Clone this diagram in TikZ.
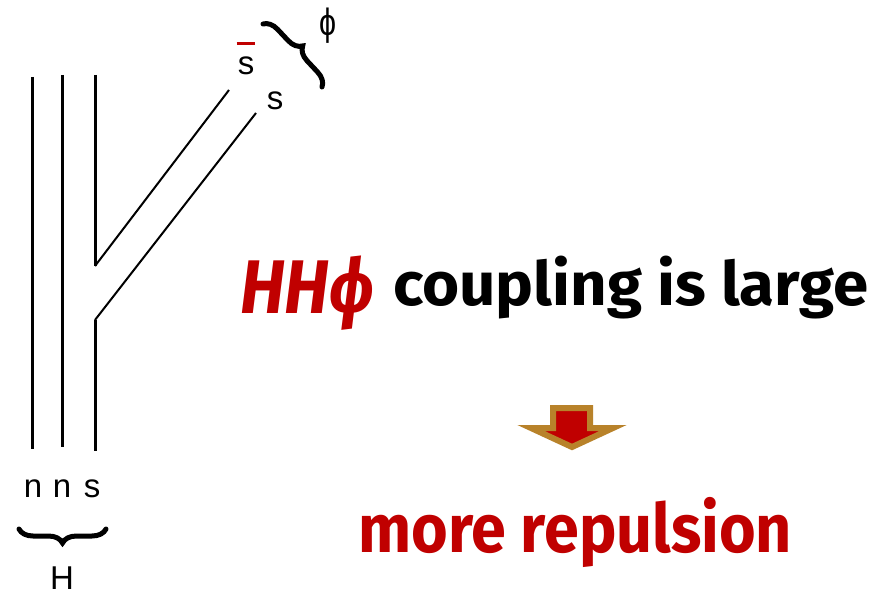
\documentclass[tikz,border=0pt]{standalone}
\usepackage{fontspec}
\usepackage{graphicx}
\setmainfont{Liberation Sans}
\newfontfamily\fira{Fira Sans}
\usetikzlibrary{decorations.pathreplacing}
\definecolor{dred}{HTML}{C00000}
\definecolor{gold}{HTML}{B8822A}
\tikzset{
  quark/.style={line width=3pt},
  diag/.style={line width=2pt},
  brc/.style={line width=5pt, line cap=round, decorate, decoration={brace, amplitude=14pt}},
  lbl/.style={inner sep=0pt, font=\fontsize{33}{36}\selectfont},
  big/.style={inner sep=0pt, anchor=base west},
}
\begin{document}
\begin{tikzpicture}[x=1pt,y=-1pt]
\useasboundingbox (0,0) rectangle (888,596);
% quark lines
\coordinate (a1) at (32,77);   \coordinate (a2) at (32,449);
\coordinate (b1) at (62.5,75); \coordinate (b2) at (62.5,447);
\coordinate (c1) at (95,75);   \coordinate (c2) at (95,266);
\coordinate (c3) at (95,320);  \coordinate (c4) at (95,451);
\coordinate (d1) at (229,90);  \coordinate (d2) at (256,113);
\draw[quark] (a1) -- (a2);
\draw[quark] (b1) -- (b2);
\draw[quark] (c1) -- (c2);
\draw[quark] (c3) -- (c4);
\draw[diag] (c2) -- (d1);
\draw[diag] (c3) -- (d2);
% labels top
\node[lbl, anchor=base] (sbar) at (246,75) {s};
\draw[dred, line width=2.5pt] (236.5,43.5) coordinate (bar1) -- (255,43.5) coordinate (bar2);
\node[lbl, anchor=base] (s2) at (275,110) {s};
\coordinate (br1) at (263,24); \coordinate (br2) at (322,87);
\draw[brc] (br1) -- (br2);
\node[lbl, anchor=center] (phi) at (328,26) {\scalebox{0.8}[1]{\fontsize{38}{40}\selectfont ϕ}};
% labels bottom
\node[lbl, anchor=base] (n1) at (33,497) {n};
\node[lbl, anchor=base] (n2) at (62,497) {n};
\node[lbl, anchor=base] (s3) at (92,497) {s};
\coordinate (hb1) at (106,529); \coordinate (hb2) at (19,529);
\draw[brc] (hb1) -- (hb2);
\node[lbl, anchor=base] (H) at (62,589) {H};
% big text
\node[big, text=dred] (hh) at (240,313)
  {\resizebox{134pt}{\height}{\fira\bfseries\itshape\fontsize{76}{80}\selectfont HHϕ}};
\node[big] (coup) at (393,305)
  {\resizebox{475pt}{\height}{\fira\bfseries\fontsize{61}{64}\selectfont coupling is large}};
\node[big, text=dred] (rep) at (358,552)
  {\resizebox{434pt}{\height}{\fira\bfseries\fontsize{68}{72}\selectfont more repulsion}};
% arrow
\draw[gold, fill=dred, line width=6pt, line join=miter]
  (553,408) coordinate (ar1) -- (590,408) -- (590,428) -- (613,428)
  -- (572,447) coordinate (artip) -- (531,428) -- (553,428) -- cycle;
\end{tikzpicture}
\end{document}
